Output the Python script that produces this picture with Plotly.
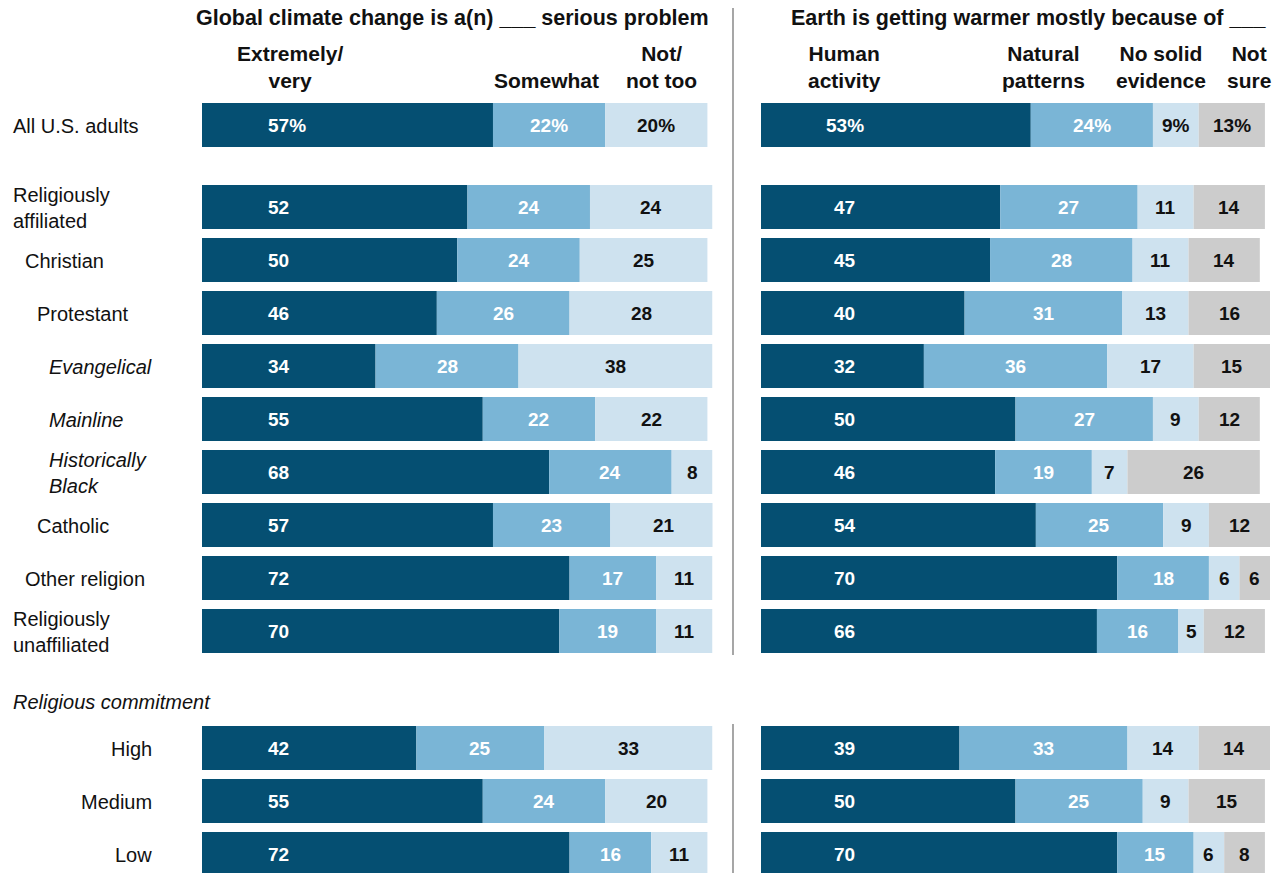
import plotly.graph_objects as go

# ---------------- data ----------------
groups = ["All U.S. adults", "Religiously<br>affiliated", "Christian", "Protestant",
          "Evangelical", "Mainline", "Historically<br>Black", "Catholic",
          "Other religion", "Religiously<br>unaffiliated", "High", "Medium", "Low"]
indent_level = [0, 0, 1, 2, 3, 3, 3, 2, 1, 0, -1, -1, -1]
italic_rows = ["Evangelical", "Mainline", "Historically<br>Black"]

problem_cats = ["Extremely/<br>very", "Somewhat", "Not/<br>not too"]
problem_extremely = [57, 52, 50, 46, 34, 55, 68, 57, 72, 70, 42, 55, 72]
problem_somewhat = [22, 24, 24, 26, 28, 22, 24, 23, 17, 19, 25, 24, 16]
problem_not = [20, 24, 25, 28, 38, 22, 8, 21, 11, 11, 33, 20, 11]

warm_cats = ["Human<br>activity", "Natural<br>patterns", "No solid<br>evidence", "Not<br>sure"]
warm_human = [53, 47, 45, 40, 32, 50, 46, 54, 70, 66, 39, 50, 70]
warm_natural = [24, 27, 28, 31, 36, 27, 19, 25, 18, 16, 33, 25, 15]
warm_nosolid = [9, 11, 11, 13, 17, 9, 7, 9, 6, 5, 14, 9, 6]
warm_notsure = [13, 14, 14, 16, 15, 12, 26, 12, 6, 12, 14, 15, 8]

title_left = "Global climate change is a(n) ___ serious problem"
title_right = "Earth is getting warmer mostly because of ___"
section_label = "Religious commitment"

# ---------------- layout constants ----------------
W, H = 1281, 873
FONT = "Liberation Sans"
C_DARK, C_MID, C_LIGHT, C_GRAY = "#054f72", "#7ab5d6", "#cee2ef", "#cccccc"
TXT_COL = {C_DARK: "white", C_MID: "white", C_LIGHT: "#111111", C_GRAY: "#111111"}

# row centers (pixels from top) built from pitch and group gaps
pitch = 53
gap_before = [0, 82, pitch, pitch, pitch, pitch, pitch, pitch, pitch, pitch, 117, pitch, pitch]
ypos = []
cur = 125
for g in gap_before:
    cur += g
    ypos.append(cur)

L0, L1 = 202, 712.5     # left panel pixel span for 0..100
R0, R1 = 761, 1270      # right panel pixel span for 0..100

fig = go.Figure()


def add_stack(series, colors, xaxis, first_mode):
    base = [0] * len(groups)
    for s_i, (vals, col) in enumerate(zip(series, colors)):
        fig.add_trace(go.Bar(
            y=ypos, x=vals, base=base, orientation="h", width=44,
            marker=dict(color=col, line=dict(width=0)),
            xaxis=xaxis, yaxis="y", hoverinfo="skip", showlegend=False))
        for r, v in enumerate(vals):
            txt = f"{v}%" if r == 0 else f"{v}"
            if s_i == 0:
                if first_mode == "left":
                    xx, anchor = 12.5, "left"
                else:
                    xx, anchor = 16.5, "center"
            else:
                xx, anchor = base[r] + v / 2, "center"
            fig.add_annotation(x=xx, y=ypos[r], xref=xaxis, yref="y", text=f"<b>{txt}</b>",
                               showarrow=False, xanchor=anchor, yanchor="middle",
                               font=dict(family=FONT, size=19, color=TXT_COL[col]))
        base = [b + v for b, v in zip(base, vals)]


add_stack([problem_extremely, problem_somewhat, problem_not], [C_DARK, C_MID, C_LIGHT], "x", "left")
add_stack([warm_human, warm_natural, warm_nosolid, warm_notsure], [C_DARK, C_MID, C_LIGHT, C_GRAY], "x2", "center")

# row labels
indent_px = [11, 23, 35, 47]
for r, (g, lvl) in enumerate(zip(groups, indent_level)):
    label = f"<i>{g}</i>" if g in italic_rows else g
    if lvl >= 0:
        fig.add_annotation(x=indent_px[lvl] / W, y=ypos[r] + 1, xref="paper", yref="y", text=label,
                           showarrow=False, xanchor="left", yanchor="middle", align="left",
                           font=dict(family=FONT, size=20, color="#111111"))
    else:
        fig.add_annotation(x=154 / W, y=ypos[r] + 1, xref="paper", yref="y", text=label,
                           showarrow=False, xanchor="right", yanchor="middle", align="right",
                           font=dict(family=FONT, size=20, color="#111111"))

fig.add_annotation(x=11 / W, y=702, xref="paper", yref="y", text=f"<i>{section_label}</i>",
                   showarrow=False, xanchor="left", yanchor="middle",
                   font=dict(family=FONT, size=20, color="#111111"))

# panel titles
fig.add_annotation(x=452 / W, y=18, xref="paper", yref="y", text=f"<b>{title_left}</b>",
                   showarrow=False, xanchor="center", yanchor="middle",
                   font=dict(family=FONT, size=21.5, color="#111111"))
fig.add_annotation(x=1028 / W, y=18, xref="paper", yref="y", text=f"<b>{title_right}</b>",
                   showarrow=False, xanchor="center", yanchor="middle",
                   font=dict(family=FONT, size=21.5, color="#111111"))

# column headers (bottom aligned)
left_hdr_x = [290, 546, 661]
right_hdr_x = [845, 1043, 1161, 1249]
for cx, c in zip(left_hdr_x, problem_cats):
    fig.add_annotation(x=cx / W, y=94, xref="paper", yref="y", text=f"<b>{c}</b>",
                       showarrow=False, xanchor="center", yanchor="bottom", align="center",
                       font=dict(family=FONT, size=21, color="#111111"))
for cx, c in zip(right_hdr_x, warm_cats):
    fig.add_annotation(x=cx / W, y=94, xref="paper", yref="y", text=f"<b>{c}</b>",
                       showarrow=False, xanchor="center", yanchor="bottom", align="center",
                       font=dict(family=FONT, size=21, color="#111111"))

# separator line (broken around the section label)
for y0, y1 in [(8, 655), (724, 873)]:
    fig.add_shape(type="line", xref="paper", yref="y", x0=733 / W, x1=733 / W, y0=y0, y1=y1,
                  line=dict(color="#777777", width=1.3))

axis_common = dict(range=[0, 100], showgrid=False, zeroline=False, showticklabels=False,
                   showline=False, fixedrange=True)
fig.update_layout(
    width=W, height=H, margin=dict(l=0, r=0, t=0, b=0),
    paper_bgcolor="white", plot_bgcolor="white", barmode="overlay",
    xaxis=dict(domain=[L0 / W, L1 / W], **axis_common),
    xaxis2=dict(domain=[R0 / W, R1 / W], anchor="y", **axis_common),
    yaxis=dict(range=[H, 0], domain=[0, 1], showgrid=False, zeroline=False,
               showticklabels=False, fixedrange=True),
    font=dict(family=FONT),
)

fig.write_html("out.html")
